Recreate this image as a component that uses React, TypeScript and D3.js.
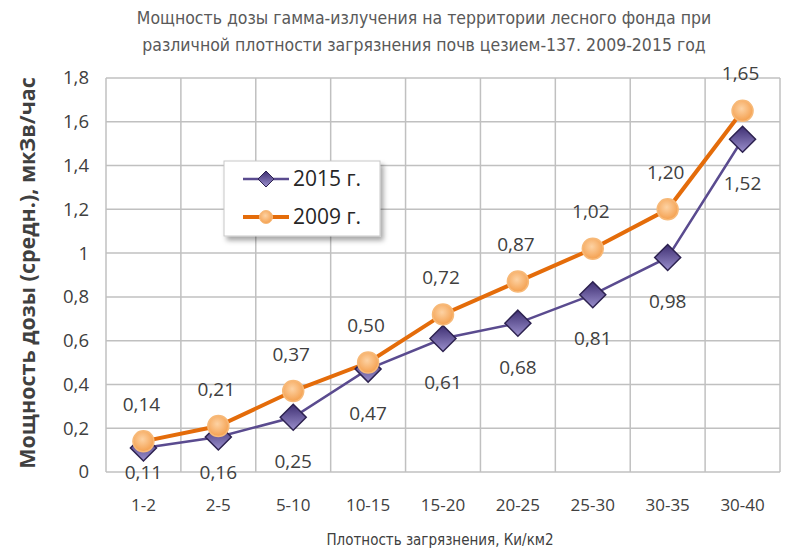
import React, { useEffect, useRef } from 'react';
import * as d3 from 'd3';

const categories = ['1-2', '2-5', '5-10', '10-15', '15-20', '20-25', '25-30', '30-35', '30-40'];
const values2015 = [0.11, 0.16, 0.25, 0.47, 0.61, 0.68, 0.81, 0.98, 1.52];
const values2009 = [0.14, 0.21, 0.37, 0.5, 0.72, 0.87, 1.02, 1.2, 1.65];
const yTicks = [0, 0.2, 0.4, 0.6, 0.8, 1, 1.2, 1.4, 1.6, 1.8];
const titleLines = [
  'Мощность дозы гамма-излучения на территории  лесного фонда при',
  'различной плотности загрязнения почв цезием-137. 2009-2015 год',
];
const yTitle = 'Мощность дозы (средн.), мкЗв/час';
const xTitle = 'Плотность загрязнения, Ки/км2';
const seriesNames = ['2015 г.', '2009 г.'];

const W = 800;
const H = 556;
const PURPLE = '#5a4b8f';
const ORANGE = '#e46c0a';
const TEXT = '#404040';
const GRID = '#c0c0c0';

const fmt = (v: number) => String(+v.toFixed(2)).replace('.', ',');
const fmt2 = (v: number) => v.toFixed(2).replace('.', ',');

export default function App() {
  const ref = useRef<SVGSVGElement>(null);

  useEffect(() => {
    const svg = d3.select(ref.current);
    svg.selectAll('*').remove();

    const left = 106, right = 780, top = 78, bottom = 472;

    const x = d3.scaleBand().domain(categories).range([left, right]).padding(0);
    const y = d3.scaleLinear().domain([0, 1.8]).range([bottom, top]);
    const cx = (c: string) => (x(c) || 0) + x.bandwidth() / 2;

    const defs = svg.append('defs');
    const dg = defs.append('linearGradient').attr('id', 'dia').attr('x1', 0).attr('y1', 0).attr('x2', 0).attr('y2', 1);
    dg.append('stop').attr('offset', '0%').attr('stop-color', '#3e2f72');
    dg.append('stop').attr('offset', '100%').attr('stop-color', '#9a8fcc');
    const cg = defs.append('radialGradient').attr('id', 'circ').attr('cx', '45%').attr('cy', '40%').attr('r', '60%');
    cg.append('stop').attr('offset', '0%').attr('stop-color', '#fdd2a3');
    cg.append('stop').attr('offset', '100%').attr('stop-color', '#f4a04f');
    const sh = defs.append('filter').attr('id', 'shadow').attr('x', '-20%').attr('y', '-20%').attr('width', '150%').attr('height', '160%');
    sh.append('feDropShadow').attr('dx', 3).attr('dy', 4).attr('stdDeviation', 2.5).attr('flood-color', '#000').attr('flood-opacity', 0.35);

    svg.append('rect').attr('width', W).attr('height', H).attr('fill', '#fff');

    // title
    svg.append('g')
      .selectAll('text')
      .data(titleLines)
      .enter()
      .append('text')
      .attr('x', 424)
      .attr('y', (_, i) => 24 + i * 27)
      .attr('text-anchor', 'middle')
      .style('font-family', '"DejaVu Sans Condensed", "DejaVu Sans", sans-serif')
      .style('font-stretch', 'condensed')
      .style('font-size', '17.5px')
      .attr('fill', '#595959')
      .text(d => d);

    // grid
    const grid = svg.append('g');
    grid.selectAll('line.h')
      .data(yTicks)
      .enter()
      .append('line')
      .attr('x1', left).attr('x2', right)
      .attr('y1', d => y(d)).attr('y2', d => y(d))
      .attr('stroke', GRID).attr('stroke-width', 1.5);
    const bounds = categories.map(c => x(c) || 0).concat([right]);
    grid.selectAll('line.v')
      .data(bounds)
      .enter()
      .append('line')
      .attr('x1', d => d).attr('x2', d => d)
      .attr('y1', top).attr('y2', bottom)
      .attr('stroke', GRID).attr('stroke-width', 1.5);

    // y tick labels
    svg.append('g')
      .selectAll('text')
      .data(yTicks)
      .enter()
      .append('text')
      .attr('x', 89)
      .attr('y', d => y(d))
      .attr('dy', '0.35em')
      .attr('text-anchor', 'end')
      .style('font-family', '"Open Sans", sans-serif')
      .style('font-size', '18.5px')
      .attr('fill', TEXT)
      .text(d => fmt(d));

    // x tick labels
    svg.append('g')
      .selectAll('text')
      .data(categories)
      .enter()
      .append('text')
      .attr('x', d => cx(d))
      .attr('y', 505)
      .attr('dy', '0.35em')
      .attr('text-anchor', 'middle')
      .style('font-family', '"Open Sans", sans-serif')
      .style('font-size', '17px')
      .attr('fill', TEXT)
      .text(d => d);

    // axis titles
    svg.append('text')
      .attr('transform', `translate(35,${(top + bottom) / 2 - 2}) rotate(-90)`)
      .attr('text-anchor', 'middle')
      .style('font-family', '"Open Sans", sans-serif')
      .style('font-weight', 'bold')
      .style('font-size', '21.5px')
      .attr('fill', TEXT)
      .text(yTitle);

    svg.append('text')
      .attr('x', 440)
      .attr('y', 545)
      .attr('text-anchor', 'middle')
      .style('font-family', '"DejaVu Sans Condensed", "DejaVu Sans", sans-serif')
      .style('font-stretch', 'condensed')
      .style('font-size', '15px')
      .attr('fill', TEXT)
      .text(xTitle);

    const line = d3.line<number>()
      .x((_, i) => cx(categories[i]))
      .y(d => y(d));

    svg.append('path')
      .datum(values2015)
      .attr('fill', 'none')
      .attr('stroke', PURPLE)
      .attr('stroke-width', 2.5)
      .attr('d', line);

    svg.append('path')
      .datum(values2009)
      .attr('fill', 'none')
      .attr('stroke', ORANGE)
      .attr('stroke-width', 4)
      .attr('d', line);

    // 2015 diamonds
    const diamond = (s: number) => `M0,${-s}L${s},0L0,${s}L${-s},0Z`;
    svg.append('g')
      .selectAll('path')
      .data(values2015)
      .enter()
      .append('path')
      .attr('transform', (d, i) => `translate(${cx(categories[i])},${y(d)})`)
      .attr('d', diamond(13))
      .attr('fill', 'url(#dia)')
      .attr('stroke', '#2d2250')
      .attr('stroke-width', 1.5);

    // 2009 circles
    svg.append('g')
      .selectAll('circle')
      .data(values2009)
      .enter()
      .append('circle')
      .attr('cx', (_, i) => cx(categories[i]))
      .attr('cy', d => y(d))
      .attr('r', 10.5)
      .attr('fill', 'url(#circ)')
      .attr('stroke', '#f7b978')
      .attr('stroke-width', 1.5);

    // data labels
    const labelStyle = (sel: any) => sel
      .attr('text-anchor', 'middle')
      .attr('dy', '0.35em')
      .style('font-family', '"Open Sans", sans-serif')
      .style('font-size', '19px')
      .attr('fill', TEXT);

    svg.append('g')
      .selectAll('text')
      .data(values2009)
      .enter()
      .append('text')
      .attr('x', (_, i) => cx(categories[i]) - 2)
      .attr('y', d => y(d) - 37)
      .call(labelStyle)
      .text(d => fmt2(d));

    svg.append('g')
      .selectAll('text')
      .data(values2015)
      .enter()
      .append('text')
      .attr('x', (_, i) => cx(categories[i]))
      .attr('y', d => Math.min(y(d) + 44, bottom))
      .call(labelStyle)
      .text(d => fmt2(d));

    // legend
    const lg = svg.append('g').attr('transform', 'translate(224,161)');
    lg.append('rect')
      .attr('width', 156).attr('height', 75)
      .attr('fill', '#fff')
      .attr('stroke', '#c8c8c8')
      .attr('filter', 'url(#shadow)');
    seriesNames.forEach((name, i) => {
      const row = lg.append('g').attr('transform', `translate(0,${18 + i * 38})`);
      row.append('line')
        .attr('x1', 19).attr('x2', 65)
        .attr('stroke', i === 0 ? PURPLE : ORANGE)
        .attr('stroke-width', i === 0 ? 2.5 : 4);
      if (i === 0) {
        row.append('path').attr('transform', 'translate(42,0)').attr('d', diamond(8))
          .attr('fill', 'url(#dia)').attr('stroke', '#2d2250').attr('stroke-width', 1);
      } else {
        row.append('circle').attr('cx', 42).attr('r', 6.5)
          .attr('fill', 'url(#circ)').attr('stroke', '#f7b978').attr('stroke-width', 1);
      }
      row.append('text')
        .attr('x', 69)
        .attr('dy', '0.35em')
        .style('font-family', '"Open Sans", sans-serif')
        .style('font-size', '21px')
        .attr('fill', '#262626')
        .text(name);
    });
  }, []);

  return (
    <svg
      ref={ref}
      width={W}
      height={H}
      style={{ position: 'absolute', left: 0, top: 0 }}
      role="img"
      aria-label="Мощность дозы гамма-излучения"
    ></svg>
  );
}
